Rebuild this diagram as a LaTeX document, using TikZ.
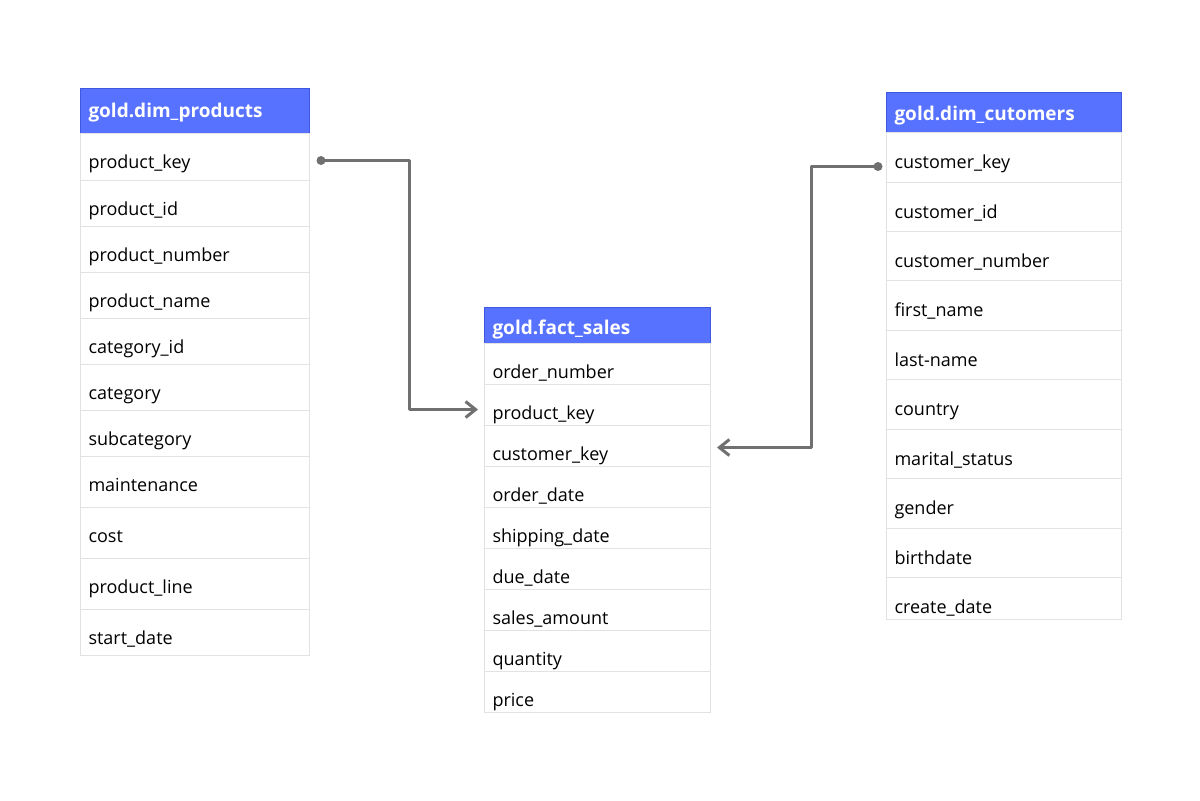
\documentclass[tikz,border=0pt]{standalone}
\usepackage{fontspec}
\setmainfont{Open Sans}
\usepackage{tikz}
\usetikzlibrary{arrows.meta, positioning, calc}
\definecolor{headblue}{HTML}{5772FF}
\definecolor{headline}{HTML}{3F58E0}
\definecolor{gridline}{HTML}{E2E2E2}
\definecolor{linkgray}{HTML}{707070}

\begin{document}
\begin{tikzpicture}[x=0.5pt, y=-0.5pt, font=\fontsize{9pt}{10.5pt}\selectfont,
    head/.style={draw=headline, line width=0.5pt, fill=headblue, text=white, font=\fontsize{9.5pt}{11pt}\selectfont\bfseries,
      anchor=north west, inner xsep=4pt, inner ysep=0pt, align=left},
    cell/.style={draw=gridline, line width=0.5pt, fill=white, anchor=north west,
      inner xsep=4pt, inner ysep=0pt, text height=17.5pt, align=left},
    link/.style={draw=linkgray, line width=1.5pt, line cap=round, line join=round},
    dot/.style={circle, fill=linkgray, inner sep=0pt, minimum size=4.5pt}]
  \fill[white] (0,0) rectangle (1200,800);
  \useasboundingbox (0,0) rectangle (1200,800);

  % dim_products
  \node[head, text width=106.5pt, text height=14.5pt, text depth=8pt] (prod) at (80,88) {gold.dim\_products};
  \foreach \top/\bot/\name/\txt in {133/180/pkey/product\_key, 180/226/pid/product\_id,
      226/272/pnum/product\_number, 272/318/pname/product\_name, 318/364/catid/category\_id,
      364/410/cat/category, 410/456/subcat/subcategory, 456/507/maint/maintenance,
      507/558/cost/cost, 558/609/pline/product\_line, 609/655/start/start\_date}
    \node[cell, text width=106.5pt, text depth={(\bot-\top-35)*0.5pt}] (p-\name) at (80,\top) {\txt};

  % fact_sales
  \node[head, text width=105pt, text height=13.5pt, text depth=4.5pt] (fact) at (484,307) {gold.fact\_sales};
  \foreach \top/\bot/\name/\txt in {343/384/onum/order\_number, 384/425/pkey/product\_key,
      425/466/ckey/customer\_key, 466/507/odate/order\_date, 507/548/sdate/shipping\_date,
      548/589/ddate/due\_date, 589/630/amount/sales\_amount, 630/671/qty/quantity,
      671/712/price/price}
    \node[cell, text width=105pt, text depth={(\bot-\top-35)*0.5pt}] (f-\name) at (484,\top) {\txt};

  % dim_customers
  \node[head, text width=109.5pt, text height=14pt, text depth=6pt] (cust) at (886,92) {gold.dim\_cutomers};
  \foreach \top/\bot/\name/\txt in {132/182/ckey/customer\_key, 182/231/cid/customer\_id,
      231/280/cnum/customer\_number, 280/330/first/first\_name, 330/379/last/last-name,
      379/429/country/country, 429/478/marital/marital\_status, 478/528/gender/gender,
      528/577/birth/birthdate, 577/619/create/create\_date}
    \node[cell, text width=109.5pt, text height=18pt, text depth={(\bot-\top-36)*0.5pt}] (c-\name) at (886,\top) {\txt};

  % links
  \coordinate (src1) at ([shift={(11,3.5)}]p-pkey.east);
  \coordinate (dst1) at ([shift={(-6,4.5)}]f-pkey.west);
  \coordinate (src2) at ([shift={(-8,9)}]c-ckey.west);
  \coordinate (dst2) at ([shift={(6,1.5)}]f-ckey.east);
  \draw[link, -{Straight Barb[length=5pt, width=8pt]}] (src1) -- ++(88,0) |- (dst1);
  \draw[link, -{Straight Barb[length=5pt, width=8pt]}] (src2) -- ++(-67,0) |- (dst2);
  \node[dot] (d1) at (src1) {};
  \node[dot] (d2) at (src2) {};
\end{tikzpicture}
\end{document}
